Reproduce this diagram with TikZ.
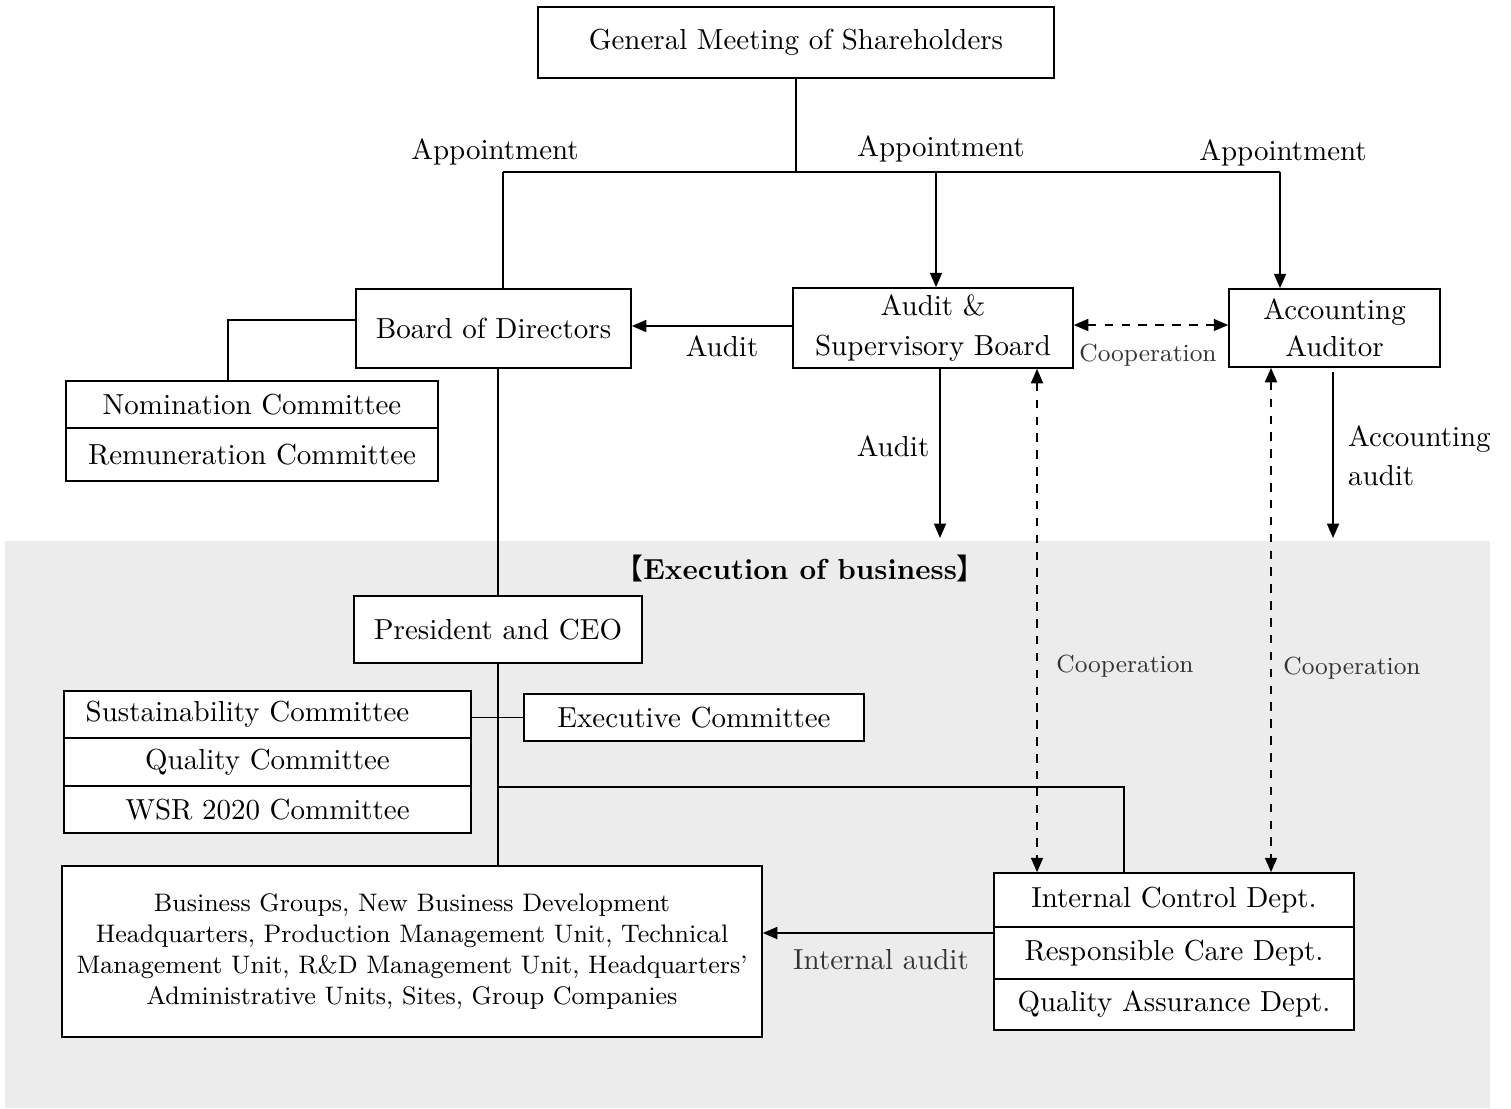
\documentclass[tikz,border=0pt]{standalone}
\usepackage{fontspec}
\usepackage{tikz}
\usetikzlibrary{arrows.meta}
\newfontfamily\cjk{Noto Sans CJK JP}

\begin{document}
\begin{tikzpicture}[x=0.0125cm,y=-0.0125cm,
  >={Triangle[length=1.8mm,width=1.5mm]},
  line width=0.6pt,
  font=\fontsize{10.3}{13}\selectfont,
  box/.style={draw, fill=white, inner sep=0pt, align=center},
  coop/.style={font=\fontsize{8.8}{10}\selectfont, text=black!80}]

  \def\pw{0.0125cm}

  \useasboundingbox (0,0) rectangle (1511,1108);

  % execution area
  \fill[gray!15] (5,541) rectangle (1490,1108);
  \node (exec) at (800,568) {{\cjk 【}\textbf{Execution of business}{\cjk 】}};

  % boxes
  \node[box, minimum width=516*\pw, minimum height=71*\pw] (gm) at (796,42.5)
  {General Meeting of Shareholders};
  \node[box, minimum width=275*\pw, minimum height=79*\pw] (bod) at (493.5,328.5)
  {Board of Directors};
  \node[box, minimum width=280*\pw, minimum height=80*\pw] (asb) at (933,328)
  {Audit \&\\[1pt]Supervisory Board};
  \node[box, minimum width=211*\pw, minimum height=78*\pw] (aca) at (1334.5,328)
  {Accounting\\Auditor};

  \node[box, minimum width=372*\pw, minimum height=47*\pw] (nom) at (252,404.5)
  {Nomination Committee};
  \node[box, minimum width=372*\pw, minimum height=53*\pw] (rem) at (252,454.5)
  {Remuneration Committee};

  \node[box, minimum width=288*\pw, minimum height=67*\pw] (pres) at (498,629.5)
  {President and CEO};

  \node[box, minimum width=407*\pw, minimum height=47*\pw] (sus) at (267.5,714.5)
  {Sustainability Committee\hspace*{0.5cm}};
  \node[box, minimum width=407*\pw, minimum height=48*\pw] (qual) at (267.5,762)
  {Quality Committee};
  \node[box, minimum width=407*\pw, minimum height=47*\pw] (wsr) at (267.5,809.5)
  {WSR 2020 Committee};
  \node[box, minimum width=340*\pw, minimum height=47*\pw] (exe) at (694,717.5)
  {Executive Committee};

  \node[box, minimum width=700*\pw, minimum height=171*\pw, font=\small] (biz) at (412,951.5)
  {Business Groups, New Business Development\\
   Headquarters, Production Management Unit, Technical\\
   Management Unit, R\&D Management Unit, Headquarters'\\
   Administrative Units, Sites, Group Companies};

  \node[box, minimum width=360*\pw, minimum height=54*\pw] (icd) at (1174,900)
  {Internal Control Dept.};
  \node[box, minimum width=360*\pw, minimum height=52*\pw] (rcd) at (1174,953)
  {Responsible Care Dept.};
  \node[box, minimum width=360*\pw, minimum height=51*\pw] (qad) at (1174,1004.5)
  {Quality Assurance Dept.};

  % appointment
  \coordinate (top) at (796,172);
  \coordinate (apL) at (503,172);
  \coordinate (apR) at (1280,172);
  \draw (gm) -- (top);
  \draw (apL) -- (apR);
  \draw (apL) -- (apL |- bod.north);
  \draw[->] (936,172 |- top) -- (936,0 |- asb.north);
  \draw[->] (apR) -- (apR |- aca.north);
  \node (ap1) at (495,152) {Appointment};
  \node (ap2) at (941,149) {Appointment};
  \node (ap3) at (1283,153) {Appointment};

  % audit and cooperation
  \draw[->] (asb.west |- 0,326) -- (bod.east |- 0,326);
  \node (au1) at (722,346) {Audit};
  \draw[<->, dashed] (asb.east |- 0,325) -- (aca.west |- 0,325);
  \node[coop] (co1) at (1148,355) {Cooperation};

  \coordinate (auEnd) at (940,538);
  \draw[->] (asb.south -| auEnd) -- (auEnd);
  \node (au2) at (893,446) {Audit};
  \coordinate (acEnd) at (1333,538);
  \draw[->] ([yshift=-4*\pw]aca.south -| acEnd) -- (acEnd);
  \node[anchor=west, align=left] (au3) at (1338,456) {Accounting\\[1pt]audit};

  \draw[<->, dashed] (asb.south -| 1037,0) -- (icd.north -| 1037,0);
  \node[coop] (co2) at (1125,666) {Cooperation};
  \draw[<->, dashed] (aca.south -| 1271,0) -- (icd.north -| 1271,0);
  \node[coop] (co3) at (1352,668) {Cooperation};

  % line of command
  \draw (bod.west |- 0,320) -| (nom.north -| 228,0);
  \draw (pres.north |- bod.south) -- (pres.north);
  \draw (pres.south) -- (pres.south |- biz.north);
  \draw (sus.east |- exe.west) -- (exe.west);
  \draw (pres.south |- 0,787) -| (icd.north -| 1124,0);

  % internal audit
  \draw[->] (icd.west |- 0,933) -- (biz.east |- 0,933);
  \node[text=black!80] (ia) at (881,960) {Internal audit};

\end{tikzpicture}
\end{document}
